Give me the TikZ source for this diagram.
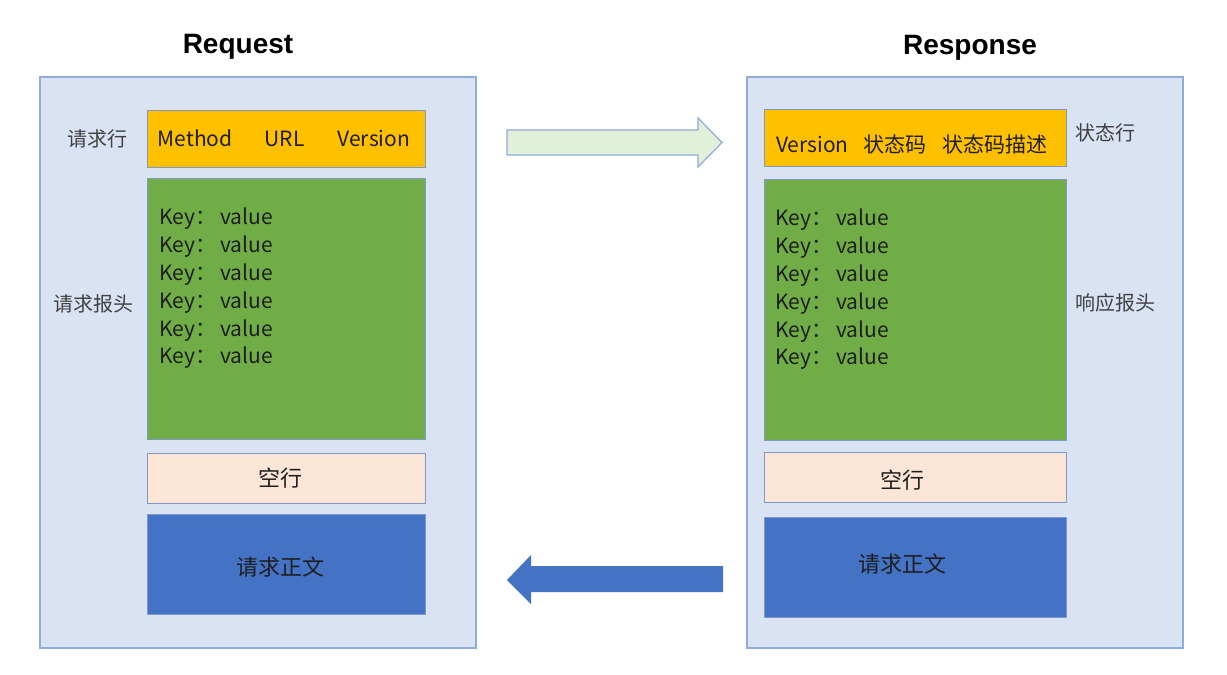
\documentclass[tikz,border=0pt]{standalone}
\usepackage{fontspec}
\setmainfont{Noto Sans CJK SC}
\newfontfamily\titlefont{Liberation Sans}
\definecolor{lightbg}{HTML}{DAE3F3}
\definecolor{outerline}{HTML}{8FAADC}
\definecolor{boxline}{HTML}{7F98C8}
\definecolor{orangef}{HTML}{FFC000}
\definecolor{greenf}{HTML}{70AD47}
\definecolor{peachf}{HTML}{FBE5D6}
\definecolor{bluef}{HTML}{4472C4}
\definecolor{arrowg}{HTML}{E2F0D9}
\definecolor{txt}{HTML}{1E1E1E}
\definecolor{sidetxt}{HTML}{404040}
\begin{document}
\begin{tikzpicture}[x=1pt,y=-1pt,
  outer/.style={draw=outerline,fill=lightbg,line width=1.2pt},
  part/.style={draw=boxline,line width=1pt,anchor=north west,inner sep=0pt,text=txt,font=\fontsize{21}{25}\selectfont},
  side/.style={text=sidetxt,font=\fontsize{20}{24}\selectfont,inner sep=0pt},
  keyline/.style={anchor=west,inner sep=0pt,text=txt,font=\fontsize{21}{25}\selectfont},
  ttl/.style={font=\titlefont\bfseries\fontsize{28}{32}\selectfont,text=black,inner sep=0pt}]
\useasboundingbox (0,0) rectangle (1227,675);
\fill[white] (0,0) rectangle (1227,675);
% outer boxes
\draw[outer] (40,77) rectangle (476,648);
\draw[outer] (747,77) rectangle (1183,648);
\node[ttl] (reqt) at (238,47) {Request};
\node[ttl] (rest) at (970,48) {Response};
% left parts
\node[part,fill=orangef,minimum width=278pt,minimum height=57pt] (lline) at (147,110) {};
\node[inner sep=0pt,text=txt,font=\fontsize{21}{25}\selectfont] (ltext) at (284,138) {Method\hspace{32pt}URL\hspace{33pt}Version};
\node[part,fill=greenf,minimum width=278pt,minimum height=261pt] (lhead) at (147,178) {};
\foreach \i/\y in {1/219,2/247,3/275,4/303,5/331,6/358}
  \node[keyline] (lk\i) at (159,\y) {Key：\hspace{4pt}value};
\node[part,fill=peachf,minimum width=278pt,minimum height=50pt] (lblank) at (147,453) {};
\node[inner sep=0pt,text=txt,font=\fontsize{22}{26}\selectfont] (lblankt) at (280,478) {空行};
\node[part,fill=bluef,minimum width=278pt,minimum height=100pt] (lbody) at (147,514) {};
\node[inner sep=0pt,text=txt,font=\fontsize{22}{26}\selectfont] (lbodyt) at (280,567) {请求正文};
\node[side] (lab1) at (97,139) {请求行};
\node[side] (lab2) at (93,304) {请求报头};
% right parts
\node[part,fill=orangef,minimum width=302pt,minimum height=57pt] (rline) at (764,109) {};
\node[inner sep=0pt,text=txt,font=\fontsize{21}{25}\selectfont] (rtext) at (912,144) {Version\hspace{15pt}状态码\hspace{16pt}状态码描述};
\node[part,fill=greenf,minimum width=302pt,minimum height=261pt] (rhead) at (764,179) {};
\foreach \i/\y in {1/220,2/248,3/276,4/304,5/332,6/359}
  \node[keyline] (rk\i) at (775,\y) {Key：\hspace{4pt}value};
\node[part,fill=peachf,minimum width=302pt,minimum height=50pt] (rblank) at (764,452) {};
\node[inner sep=0pt,text=txt,font=\fontsize{22}{26}\selectfont] (rblankt) at (902,480) {空行};
\node[part,fill=bluef,minimum width=302pt,minimum height=100pt] (rbody) at (764,517) {};
\node[inner sep=0pt,text=txt,font=\fontsize{22}{26}\selectfont] (rbodyt) at (902,564) {请求正文};
\node[side] (lab3) at (1105,133) {状态行};
\node[side] (lab4) at (1115,303) {响应报头};
% arrows
\draw[draw=outerline,fill=arrowg,line width=1.2pt,line join=miter]
  (507,130) -- (698,130) -- (698,118) -- (722,142.5) -- (698,167) -- (698,155) -- (507,155) -- cycle;
\fill[bluef]
  (723,566) -- (531,566) -- (531,555) -- (507,580) -- (531,604) -- (531,592) -- (723,592) -- cycle;
\end{tikzpicture}
\end{document}
